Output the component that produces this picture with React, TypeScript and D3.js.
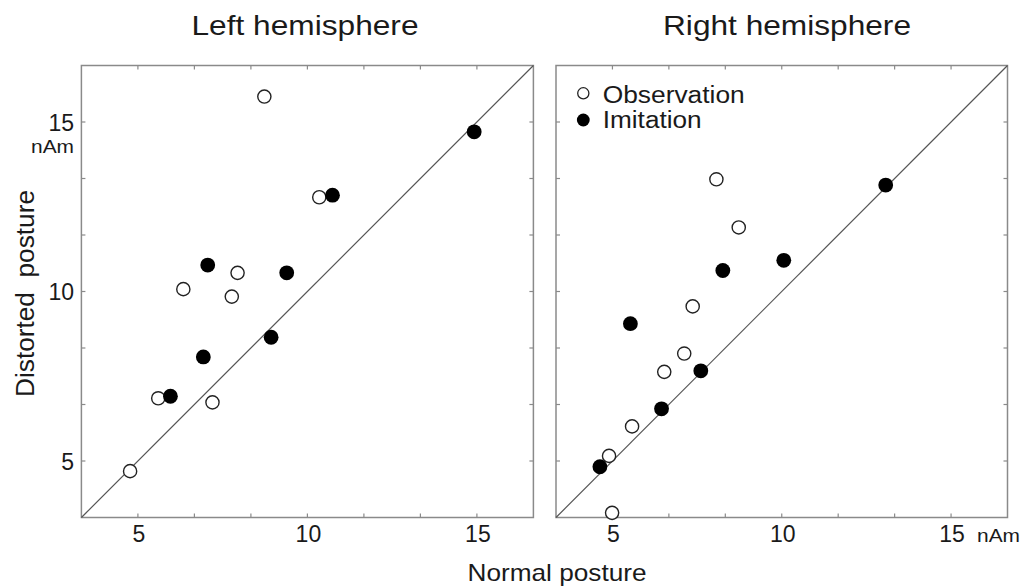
import React from "react";
import * as d3 from "d3";

// Dipole strengths (nAm): normal posture (x) vs distorted posture (y)
const leftObservationX = [8.73, 10.35, 7.94, 6.34, 7.77, 5.6, 7.2, 4.77];
const leftObservationY = [15.75, 12.78, 10.55, 10.07, 9.85, 6.85, 6.73, 4.7];
const leftImitationX = [14.92, 10.74, 7.06, 9.39, 8.93, 6.93, 5.96];
const leftImitationY = [14.71, 12.84, 10.78, 10.55, 8.65, 8.07, 6.91];

const rightObservationX = [8.07, 8.73, 7.37, 7.12, 6.53, 5.58, 4.9, 4.99];
const rightObservationY = [13.31, 11.89, 9.56, 8.17, 7.63, 6.02, 5.15, 3.47];
const rightImitationX = [13.07, 10.06, 8.26, 5.53, 7.61, 6.45, 4.63];
const rightImitationY = [13.14, 10.92, 10.62, 9.05, 7.66, 6.54, 4.83];

const tickLabels = [5, 10, 15];
const axisDomain: [number, number] = [10 / 3, 50 / 3];
const tickStep = 5 / 3;

const FONT = "'Liberation Sans', Arial, Helvetica, sans-serif";
const TEXT = "#1a1a1a";

type PanelProps = {
  x0: number;
  width: number;
  obsX: number[];
  obsY: number[];
  imiX: number[];
  imiY: number[];
  showYLabels: boolean;
  showUnitX: boolean;
  legend: boolean;
};

const TOP = 65.5;
const SIZE = 452;

function Panel({ x0, width, obsX, obsY, imiX, imiY, showYLabels, showUnitX, legend }: PanelProps) {
  const x = d3.scaleLinear().domain(axisDomain).range([x0, x0 + width]);
  const y = d3.scaleLinear().domain(axisDomain).range([TOP + SIZE, TOP]);
  const minor = d3.range(1, 8).map((i) => axisDomain[0] + i * tickStep).filter((v) => v < axisDomain[1] - 0.01);
  const tl = 4;
  const frame = "#8a8a8a";
  return (
    <g>
      <rect x={x0} y={TOP} width={width} height={SIZE} fill="none" stroke={frame} strokeWidth={1.5} />
      {minor.map((v, i) => (
        <g key={i} stroke={frame} strokeWidth={1.2}>
          <line x1={x(v)} x2={x(v)} y1={TOP + SIZE} y2={TOP + SIZE - tl} />
          <line x1={x(v)} x2={x(v)} y1={TOP} y2={TOP + tl} />
          <line x1={x0} x2={x0 + tl} y1={y(v)} y2={y(v)} />
          <line x1={x0 + width} x2={x0 + width - tl} y1={y(v)} y2={y(v)} />
        </g>
      ))}
      <line
        x1={x(axisDomain[0])}
        y1={y(axisDomain[0])}
        x2={x(axisDomain[1])}
        y2={y(axisDomain[1])}
        stroke="#555"
        strokeWidth={1.2}
      />
      {tickLabels.map((v) => (
        <text key={"x" + v} x={x(v) + 1} y={541.5} textAnchor="middle" fontSize={23} fill={TEXT} fontFamily={FONT}>
          {v}
        </text>
      ))}
      {showUnitX && (
        <text x={977} y={541.5} fontSize={19} fill={TEXT} fontFamily={FONT} textLength={43} lengthAdjust="spacingAndGlyphs">
          nAm
        </text>
      )}
      {showYLabels &&
        tickLabels.map((v) => (
          <text key={"y" + v} x={74} y={y(v) + 8.5} textAnchor="end" fontSize={23} fill={TEXT} fontFamily={FONT}>
            {v}
          </text>
        ))}
      {showYLabels && (
        <text x={74} y={153} textAnchor="end" fontSize={19} fill={TEXT} fontFamily={FONT} textLength={43} lengthAdjust="spacingAndGlyphs">
          nAm
        </text>
      )}
      {obsX.map((v, i) => (
        <circle key={"o" + i} cx={x(v)} cy={y(obsY[i])} r={6.6} fill="#fff" stroke="#222" strokeWidth={1.4} />
      ))}
      {imiX.map((v, i) => (
        <circle key={"f" + i} cx={x(v)} cy={y(imiY[i])} r={7.4} fill="#000" />
      ))}
      {legend && (
        <g fontFamily={FONT} fill={TEXT}>
          <circle cx={583.3} cy={93.3} r={5.6} fill="#fff" stroke="#222" strokeWidth={1.3} />
          <circle cx={583.3} cy={120} r={6.4} fill="#000" />
          <text x={602.7} y={102.7} fontSize={23.5} textLength={142} lengthAdjust="spacingAndGlyphs">
            Observation
          </text>
          <text x={602.7} y={128.3} fontSize={23.5} textLength={99} lengthAdjust="spacingAndGlyphs">
            Imitation
          </text>
        </g>
      )}
    </g>
  );
}

export default function App() {
  return (
    <svg width={1024} height={588} style={{ position: "absolute", left: 0, top: 0, background: "#fff" }}>
      <rect width={1024} height={588} fill="#fff" />
      <text x={305} y={35} textAnchor="middle" fontSize={28.5} fill={TEXT} fontFamily={FONT} textLength={227} lengthAdjust="spacingAndGlyphs">
        Left hemisphere
      </text>
      <text x={787} y={35} textAnchor="middle" fontSize={28.5} fill={TEXT} fontFamily={FONT} textLength={248} lengthAdjust="spacingAndGlyphs">
        Right hemisphere
      </text>
      <Panel
        x0={81.4}
        width={452}
        obsX={leftObservationX}
        obsY={leftObservationY}
        imiX={leftImitationX}
        imiY={leftImitationY}
        showYLabels={true}
        showUnitX={false}
        legend={false}
      />
      <Panel
        x0={556}
        width={451.5}
        obsX={rightObservationX}
        obsY={rightObservationY}
        imiX={rightImitationX}
        imiY={rightImitationY}
        showYLabels={false}
        showUnitX={true}
        legend={true}
      />
      <text x={557} y={580.7} textAnchor="middle" fontSize={24} fill={TEXT} fontFamily={FONT} textLength={179} lengthAdjust="spacingAndGlyphs">
        Normal posture
      </text>
      <text
        transform="translate(34,293.5) rotate(-90)"
        textAnchor="middle"
        fontSize={26}
        fill={TEXT}
        fontFamily={FONT}
        textLength={207}
        lengthAdjust="spacingAndGlyphs"
        style={{ whiteSpace: "pre" }}
      >
        {"Distorted  posture"}
      </text>
    </svg>
  );
}
